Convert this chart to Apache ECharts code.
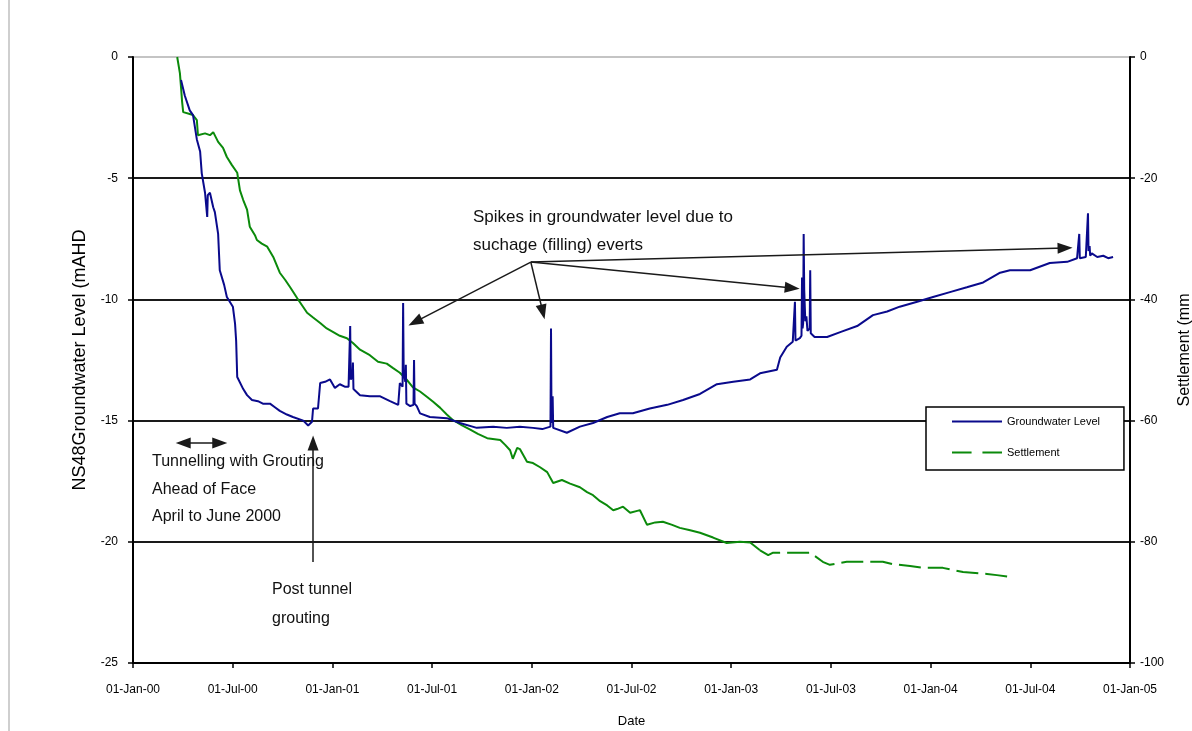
<!DOCTYPE html>
<html>
<head>
<meta charset="utf-8">
<script src="https://cdn.jsdelivr.net/npm/echarts@6/dist/echarts.min.js"></script>
<style>
  html, body { margin: 0; padding: 0; background: #fff; }
  #chart { width: 1192px; height: 731px; }
</style>
</head>
<body>
<div id="chart"></div>
<script>
// NS48 groundwater level (m AHD) and surface settlement (mm), 2000-2004

const gwDates = [
  '2000-03-29','2000-04-05','2000-04-14','2000-04-20','2000-04-27','2000-05-03','2000-05-06','2000-05-12',
  '2000-05-16','2000-05-17','2000-05-21','2000-05-27','2000-05-30','2000-06-05','2000-06-08','2000-06-16',
  '2000-06-21','2000-07-02','2000-07-06','2000-07-08','2000-07-10','2000-07-21','2000-07-28','2000-08-06',
  '2000-08-17','2000-08-26','2000-09-08','2000-09-17','2000-09-26','2000-10-09','2000-10-20','2000-11-08',
  '2000-11-17','2000-11-24','2000-11-26','2000-12-05','2000-12-09','2000-12-18','2000-12-27','2001-01-05',
  '2001-01-14','2001-01-23','2001-01-30','2001-02-02','2001-02-03','2001-02-06','2001-02-07','2001-02-08',
  '2001-02-20','2001-03-10','2001-03-29','2001-04-16','2001-05-01','2001-05-04','2001-05-09','2001-05-10',
  '2001-05-11','2001-05-14','2001-05-15','2001-05-16','2001-05-23','2001-05-29','2001-05-30','2001-05-31',
  '2001-06-04','2001-06-10','2001-06-28','2001-07-29','2001-08-22','2001-09-22','2001-10-22','2001-11-16',
  '2001-12-10','2002-01-03','2002-01-20','2002-02-04','2002-02-05','2002-02-06','2002-02-08','2002-02-09',
  '2002-03-06','2002-03-30','2002-04-23','2002-05-19','2002-06-11','2002-07-05','2002-08-05','2002-09-06',
  '2002-10-05','2002-11-05','2002-12-06','2003-01-05','2003-02-05','2003-02-23','2003-03-26','2003-04-01',
  '2003-04-13','2003-04-24','2003-04-27','2003-04-28','2003-04-29','2003-05-07','2003-05-10','2003-05-11',
  '2003-05-12','2003-05-13','2003-05-14','2003-05-15','2003-05-17','2003-05-19','2003-05-21','2003-05-25',
  '2003-05-26','2003-05-27','2003-06-03','2003-06-26','2003-07-20','2003-08-20','2003-09-18','2003-10-14',
  '2003-11-06','2003-12-08','2004-01-06','2004-02-06','2004-03-08','2004-04-07','2004-05-08','2004-05-26',
  '2004-07-02','2004-08-07','2004-09-08','2004-09-26','2004-09-29','2004-09-30','2004-10-01','2004-10-12',
  '2004-10-15','2004-10-16','2004-10-17','2004-10-19','2004-10-20','2004-10-23','2004-11-02','2004-11-13',
  '2004-11-22','2004-12-01'
];
const gwLevels = [
  -0.95, -1.6, -2.2, -2.4, -3.4, -3.9, -4.8, -5.6,
  -6.6, -5.7, -5.6, -6.2, -6.4, -7.3, -8.8, -9.4,
  -9.9, -10.3, -11.0, -11.7, -13.2, -13.7, -13.95, -14.15,
  -14.2, -14.3, -14.3, -14.45, -14.6, -14.75, -14.85, -15.0,
  -15.2, -15.05, -14.5, -14.5, -13.45, -13.4, -13.3, -13.65,
  -13.5, -13.6, -13.6, -11.1, -13.3, -13.2, -12.6, -13.7,
  -13.95, -14.0, -14.0, -14.2, -14.35, -13.45, -13.6, -10.15,
  -13.0, -13.4, -12.7, -14.3, -14.4, -14.35, -12.5, -14.3,
  -14.4, -14.7, -14.85, -14.9, -15.1, -15.3, -15.25, -15.3,
  -15.25, -15.3, -15.35, -15.25, -11.2, -15.1, -14.0, -15.3,
  -15.5, -15.25, -15.1, -14.85, -14.7, -14.7, -14.5, -14.35,
  -14.15, -13.9, -13.5, -13.4, -13.3, -13.05, -12.9, -12.4,
  -11.95, -11.75, -11.7, -10.1, -11.7, -11.6, -11.5, -9.1,
  -11.2, -11.0, -7.3, -9.6, -10.9, -10.7, -11.3, -11.2,
  -8.8, -11.4, -11.55, -11.55, -11.35, -11.1, -10.65, -10.5,
  -10.3, -10.1, -9.9, -9.7, -9.5, -9.3, -8.9, -8.8,
  -8.8, -8.5, -8.45, -8.3, -8.35, -7.3, -8.3, -8.25,
  -8.3, -6.45, -8.0, -7.8, -8.2, -8.1, -8.25, -8.2,
  -8.3, -8.25
];

// Settlement, continuous record to early 2003
const setDates = [
  '2000-03-22','2000-03-27','2000-03-29','2000-03-31','2000-04-02','2000-04-14','2000-04-20','2000-04-27',
  '2000-04-29','2000-05-12','2000-05-21','2000-05-27','2000-06-05','2000-06-14','2000-06-21','2000-06-30',
  '2000-07-10','2000-07-15','2000-07-21','2000-07-28','2000-08-02','2000-08-12','2000-08-15','2000-08-24',
  '2000-09-03','2000-09-14','2000-09-26','2000-10-06','2000-10-15','2000-10-28','2000-11-06','2000-11-15',
  '2000-11-26','2000-12-09','2000-12-21','2001-01-02','2001-01-14','2001-01-27','2001-02-07','2001-02-20',
  '2001-03-10','2001-03-25','2001-04-10','2001-04-21','2001-05-04','2001-05-17','2001-05-28','2001-06-10',
  '2001-06-23','2001-07-04','2001-07-17','2001-07-29','2001-08-09','2001-08-26','2001-09-10','2001-09-24',
  '2001-10-11','2001-11-04','2001-11-13','2001-11-22','2001-11-27','2001-12-05','2001-12-10','2001-12-23',
  '2002-01-03','2002-01-16','2002-01-29','2002-02-09','2002-02-25','2002-03-12','2002-03-30','2002-04-12',
  '2002-04-23','2002-05-06','2002-05-19','2002-05-30','2002-06-06','2002-06-17','2002-06-30','2002-07-13',
  '2002-07-18','2002-07-31','2002-08-15','2002-08-29','2002-09-15','2002-09-29','2002-10-18','2002-11-05',
  '2002-11-29','2002-12-24','2003-01-17','2003-02-05','2003-02-23'
];
const setValues = [
  0, -2.7, -5.0, -7.4, -9.1, -9.4, -9.6, -10.4,
  -12.9, -12.6, -12.9, -12.4, -14.0, -15.0, -16.5, -17.8,
  -19.1, -22.0, -23.6, -25.2, -28.0, -29.5, -30.2, -30.8,
  -31.3, -33.0, -35.6, -36.8, -38.0, -39.8, -41.0, -42.2,
  -43.0, -43.9, -44.8, -45.4, -46.0, -46.4, -47.2, -48.3,
  -49.2, -50.3, -50.6, -51.3, -52.1, -53.3, -54.5, -55.2,
  -56.1, -56.9, -57.9, -59.0, -59.9, -60.8, -61.5, -62.2,
  -62.9, -63.2, -64.0, -64.9, -66.3, -64.5, -64.7, -66.8,
  -67.0, -67.7, -68.5, -70.3, -69.8, -70.4, -71.0, -71.8,
  -72.3, -73.3, -74.0, -74.8, -74.6, -74.2, -75.2, -74.9,
  -74.8, -77.2, -76.8, -76.7, -77.2, -77.7, -78.1, -78.5,
  -79.3, -80.2, -80.0, -80.1, -81.4
];
// Settlement, sparser readings from 2003 on
const setTailDates = [
  '2003-02-23','2003-03-10','2003-03-19','2003-05-26','2003-06-18','2003-07-01','2003-08-01','2003-10-06',
  '2003-10-25','2003-11-25','2003-12-19','2004-01-24','2004-03-01','2004-04-14','2004-05-02','2004-05-26'
];
const setTailValues = [
  -81.4, -82.2, -81.8, -81.8, -83.3, -83.8, -83.3, -83.3,
  -83.7, -84.0, -84.3, -84.3, -85.0, -85.3, -85.5, -85.8
];

const xTickLabels = [
  '01-Jan-00','01-Jul-00','01-Jan-01','01-Jul-01','01-Jan-02','01-Jul-02',
  '01-Jan-03','01-Jul-03','01-Jan-04','01-Jul-04','01-Jan-05'
];

// Callout arrows: [fromDate, fromLevel, toDate, toLevel, heads]
const calloutArrows = [
  ['2001-12-30', -8.46, '2001-06-01', -10.93, 'end'],
  ['2001-12-30', -8.46, '2002-01-21', -10.52, 'end'],
  ['2001-12-30', -8.46, '2003-04-23', -9.53, 'end'],
  ['2001-12-30', -8.46, '2004-09-04', -7.88, 'end'],
  ['2000-11-26', -20.83, '2000-11-26', -15.92, 'end'],
  ['2000-04-02', -15.92, '2000-06-08', -15.92, 'both']
];

const FONT = '"Liberation Sans", Arial, sans-serif';
const T0 = Date.UTC(2000, 0, 1);
function toDay(s) {
  const p = s.split('-').map(Number);
  return (Date.UTC(p[0], p[1] - 1, p[2]) - T0) / 86400000;
}
const X_MAX = toDay('2005-01-01');
const X_STEP = X_MAX / 10;

const pairs = (dates, vals) => dates.map((d, i) => [toDay(d), vals[i]]);

const BLUE = '#0a0a8c';
const GREEN = '#0b8a0b';

const chart = echarts.init(document.getElementById('chart'), null, { renderer: 'canvas' });

const option = {
  animation: false,
  backgroundColor: '#fff',
  textStyle: { fontFamily: FONT, color: '#000' },
  grid: { left: 133, right: 62, top: 57, bottom: 68, containLabel: false, outerBoundsMode: 'none' },
  legend: {
    orient: 'vertical',
    left: 926,
    top: 407,
    data: [
      { name: 'Groundwater Level', icon: 'path://M0,0H50V2H0Z' },
      { name: 'Settlement', icon: 'path://M0,0H18V2H0ZM28,0H46V2H28Z' }
    ],
    itemWidth: 50,
    itemHeight: 3,
    itemGap: 20,
    padding: [9, 24, 12, 26],
    borderColor: '#000',
    borderWidth: 1.5,
    borderRadius: 0,
    backgroundColor: '#fff',
    selectedMode: false,
    textStyle: { fontFamily: FONT, fontSize: 11, color: '#000' }
  },
  xAxis: {
    type: 'value',
    min: 0,
    max: X_MAX,
    interval: X_STEP,
    name: 'Date',
    nameLocation: 'middle',
    nameGap: 52,
    nameTextStyle: { fontFamily: FONT, fontSize: 13, color: '#000' },
    axisLine: { onZero: false, lineStyle: { color: '#000', width: 2 } },
    axisTick: { length: 5, lineStyle: { color: '#000', width: 1.5 } },
    axisLabel: {
      margin: 21, fontSize: 12, color: '#000', fontFamily: FONT,
      formatter: v => xTickLabels[Math.round(v / X_STEP)]
    },
    splitLine: { show: false }
  },
  yAxis: [
    {
      type: 'value',
      position: 'left',
      min: -25, max: 0, interval: 5,
      name: 'NS48Groundwater Level (mAHD',
      nameLocation: 'middle',
      nameRotate: 90,
      nameGap: 44,
      nameTextStyle: { fontFamily: FONT, fontSize: 18, color: '#000' },
      axisLine: { show: true, onZero: false, lineStyle: { color: '#000', width: 2 } },
      axisTick: { show: true, length: 5, lineStyle: { color: '#000', width: 1.5 } },
      axisLabel: { margin: 15, fontSize: 12, color: '#000', fontFamily: FONT },
      splitLine: {
        show: true,
        lineStyle: { color: ['#1a1a1a', '#1a1a1a', '#1a1a1a', '#1a1a1a', '#1a1a1a', '#c4c4c4'], width: 2 }
      }
    },
    {
      type: 'value',
      position: 'right',
      min: -100, max: 0, interval: 20,
      name: 'Settlement (mm',
      nameLocation: 'middle',
      nameRotate: 90,
      nameGap: 47,
      nameTextStyle: { fontFamily: FONT, fontSize: 16, color: '#000', padding: [0, 0, 0, 20] },
      axisLine: { show: true, onZero: false, lineStyle: { color: '#000', width: 2 } },
      axisTick: { show: true, length: 5, lineStyle: { color: '#000', width: 1.5 } },
      axisLabel: { margin: 10, fontSize: 12, color: '#000', fontFamily: FONT },
      splitLine: { show: false }
    }
  ],
  series: [
    {
      name: 'Settlement',
      type: 'line',
      yAxisIndex: 1,
      symbol: 'none',
      data: pairs(setTailDates, setTailValues),
      lineStyle: { color: GREEN, width: 2, type: [22, 7] },
      itemStyle: { color: GREEN },
      z: 2
    },
    {
      name: 'Settlement',
      type: 'line',
      yAxisIndex: 1,
      symbol: 'none',
      data: pairs(setDates, setValues),
      lineStyle: { color: GREEN, width: 2 },
      itemStyle: { color: GREEN },
      z: 2
    },
    {
      name: 'Groundwater Level',
      type: 'line',
      yAxisIndex: 0,
      symbol: 'none',
      data: pairs(gwDates, gwLevels),
      lineStyle: { color: BLUE, width: 2 },
      itemStyle: { color: BLUE },
      z: 3,
      markLine: {
        silent: true,
        animation: false,
        symbolSize: [11, 15],
        label: { show: false },
        emphasis: { disabled: true },
        lineStyle: { color: '#1a1a1a', width: 1.5, type: 'solid' },
        data: calloutArrows.map(a => [
          { coord: [toDay(a[0]), a[1]], symbol: a[4] === 'both' ? 'triangle' : 'none' },
          { coord: [toDay(a[2]), a[3]], symbol: 'triangle' }
        ])
      }
    }
  ],
  graphic: [
    {
      type: 'line',
      shape: { x1: 9, y1: 0, x2: 9, y2: 731 },
      style: { stroke: '#cfcfcf', lineWidth: 2 },
      silent: true
    },
    {
      type: 'text',
      left: 473, top: 203,
      style: {
        text: 'Spikes in groundwater level due to\nsuchage (filling) everts',
        font: '17px ' + FONT, fill: '#111', lineHeight: 28
      }
    },
    {
      type: 'text',
      left: 152, top: 448,
      style: {
        text: 'Tunnelling with Grouting\nAhead of Face\nApril to June 2000',
        font: '16px ' + FONT, fill: '#111', lineHeight: 27.5
      }
    },
    {
      type: 'text',
      left: 272, top: 575,
      style: {
        text: 'Post tunnel\ngrouting',
        font: '16px ' + FONT, fill: '#111', lineHeight: 29
      }
    }
  ]
};

chart.setOption(option);
</script>
</body>
</html>
